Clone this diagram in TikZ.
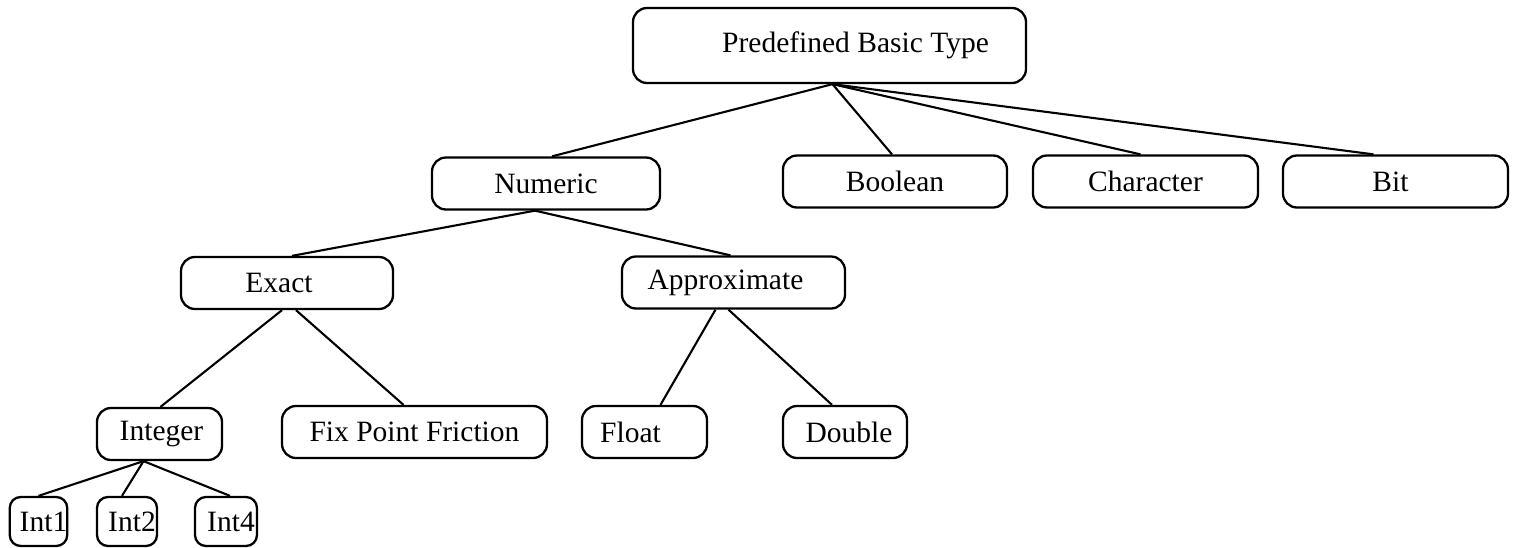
\documentclass[tikz,border=0pt]{standalone}
\usepackage{fontspec}
\setmainfont{Liberation Serif}
\begin{document}
\begin{tikzpicture}[x=1pt,y=-1pt,
  typebox/.style={draw, line width=2.3pt, rounded corners=14pt, inner sep=0pt,
    font=\fontsize{29.5}{34}\selectfont, minimum height=52pt},
  smallbox/.style={typebox, rounded corners=11pt, minimum height=49pt},
  link/.style={line width=2.1pt}]
\useasboundingbox (0,0) rectangle (1516,547);

% type hierarchy boxes
\node[typebox, minimum width=393pt, minimum height=75pt] (root) at (829.5,45.5) {\hspace*{52pt}Predefined Basic Type};
\node[typebox, minimum width=228pt] (num)  at (546,183.5)  {Numeric};
\node[typebox, minimum width=224pt] (bool) at (895,181.5)  {Boolean};
\node[typebox, minimum width=225pt] (char) at (1145.5,181.5) {Character};
\node[typebox, minimum width=225pt] (bit)  at (1395.5,181.5) {Bit\hspace*{10pt}};
\node[typebox, minimum width=212pt] (exact)  at (287,283)   {Exact\hspace*{16pt}};
\node[typebox, minimum width=223pt] (approx) at (733.5,282.5) {Approximate\hspace*{16pt}};
\node[typebox, minimum width=125pt] (int)    at (159.5,434) {\hspace*{4pt}Integer};
\node[typebox, minimum width=265pt] (fix)    at (414.5,432) {Fix Point Friction};
\node[typebox, minimum width=125pt] (float)  at (644.5,432) {Float\hspace*{28pt}};
\node[typebox, minimum width=124pt] (double) at (845,432)   {\hspace*{8pt}Double};
\node[smallbox, minimum width=57pt] (int1) at (38.5,521.5) {\hspace*{10pt}Int1};
\node[smallbox, minimum width=60pt] (int2) at (127,521.5)  {\hspace*{10pt}Int2};
\node[smallbox, minimum width=62pt] (int4) at (226,521.5)  {\hspace*{10pt}Int4};

% connectors
\draw[link] ([xshift=3pt]root.south) -- ([xshift=6pt]num.north);
\draw[link] ([xshift=3pt]root.south) -- ([xshift=-3pt]bool.north);
\draw[link] ([xshift=3pt]root.south) -- ([xshift=-5pt]char.north);
\draw[link] ([xshift=3pt]root.south) -- ([xshift=-22pt]bit.north);
\draw[link] ([xshift=-11pt]num.south) -- ([xshift=5pt]exact.north);
\draw[link] ([xshift=-11pt]num.south) -- ([xshift=-3pt]approx.north);
\draw[link] ([xshift=-5pt]exact.south) -- ([xshift=1pt]int.north);
\draw[link] ([xshift=9pt]exact.south) -- ([xshift=-11pt]fix.north);
\draw[link] ([xshift=-18pt]approx.south) -- ([xshift=16pt]float.north);
\draw[link] ([xshift=-5pt]approx.south) -- ([xshift=-13pt]double.north);
\draw[link] ([xshift=-16pt]int.south) -- (int1.north);
\draw[link] ([xshift=-16pt]int.south) -- ([xshift=-5pt]int2.north);
\draw[link] ([xshift=-16pt]int.south) -- ([xshift=4pt]int4.north);
\end{tikzpicture}
\end{document}
